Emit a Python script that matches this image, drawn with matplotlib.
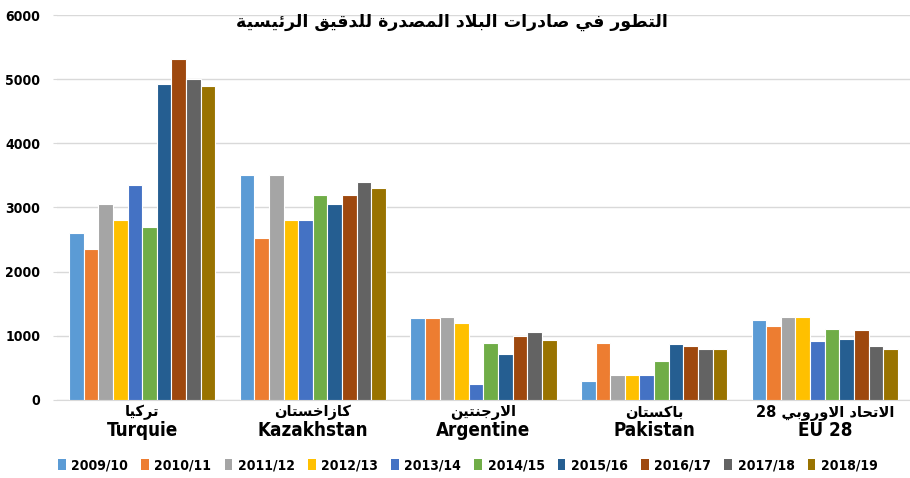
import re
import numpy as np
import matplotlib
matplotlib.use("Agg")
import matplotlib.pyplot as plt
from matplotlib.patches import Patch
from matplotlib.font_manager import FontProperties

# --- data -------------------------------------------------------------
title = "التطور في صادرات البلاد المصدرة للدقيق الرئيسية"
countries_ar = ["تركيا", "كازاخستان", "الارجنتين", "باكستان", "الاتحاد الاوروبي 28"]
countries_lat = ["Turquie", "Kazakhstan", "Argentine", "Pakistan", "EU 28"]
seasons = ["2009/10", "2010/11", "2011/12", "2012/13", "2013/14",
           "2014/15", "2015/16", "2016/17", "2017/18", "2018/19"]

turquie = [2600, 2350, 3050, 2800, 3350, 2700, 4930, 5320, 5000, 4900]
kazakhstan = [3510, 2520, 3500, 2800, 2800, 3200, 3050, 3190, 3400, 3300]
argentine = [1280, 1280, 1300, 1200, 250, 890, 710, 1005, 1055, 940]
pakistan = [300, 890, 390, 390, 390, 600, 870, 840, 800, 800]
eu28 = [1250, 1150, 1300, 1300, 925, 1100, 950, 1085, 845, 800]

colors = ["#5B9BD5", "#ED7D31", "#A5A5A5", "#FFC000", "#4472C4",
          "#70AD47", "#255E91", "#9E480E", "#636363", "#997300"]

# --- minimal arabic shaping (matplotlib has no bidi/shaping) -----------
DUAL = {'ب': 0xFE8F, 'ت': 0xFE95, 'ث': 0xFE99, 'ج': 0xFE9D, 'ح': 0xFEA1,
        'خ': 0xFEA5, 'س': 0xFEB1, 'ش': 0xFEB5, 'ص': 0xFEB9, 'ض': 0xFEBD,
        'ط': 0xFEC1, 'ظ': 0xFEC5, 'ع': 0xFEC9, 'غ': 0xFECD, 'ف': 0xFED1,
        'ق': 0xFED5, 'ك': 0xFED9, 'ل': 0xFEDD, 'م': 0xFEE1, 'ن': 0xFEE5,
        'ه': 0xFEE9, 'ي': 0xFEF1, 'ئ': 0xFE89}
RIGHT = {'ا': 0xFE8D, 'د': 0xFEA9, 'ذ': 0xFEAB, 'ر': 0xFEAD, 'ز': 0xFEAF,
         'و': 0xFEED, 'ة': 0xFE93, 'ى': 0xFEEF, 'أ': 0xFE83, 'إ': 0xFE87,
         'آ': 0xFE81, 'LA': 0xFEFB}


def shape(text):
    toks = []
    i = 0
    while i < len(text):
        if text[i] == 'ل' and i + 1 < len(text) and text[i + 1] == 'ا':
            toks.append('LA')
            i += 2
        else:
            toks.append(text[i])
            i += 1
    out = []
    for k, t in enumerate(toks):
        if t not in DUAL and t not in RIGHT:
            out.append(t)
            continue
        prev = toks[k - 1] if k > 0 else None
        nxt = toks[k + 1] if k + 1 < len(toks) else None
        jp = prev in DUAL
        jn = t in DUAL and (nxt in DUAL or nxt in RIGHT)
        base = DUAL.get(t, RIGHT.get(t))
        if jp and jn:
            cp = base + 3
        elif jp:
            cp = base + 1
        elif jn:
            cp = base + 2
        else:
            cp = base
        out.append(chr(cp))
    s = "".join(out)[::-1]
    return re.sub(r"[0-9]+", lambda m: m.group()[::-1], s)


# --- plot ---------------------------------------------------------------
narrow = dict(family="DejaVu Sans", stretch="condensed", weight="bold")
arab = ["DejaVu Sans"]

fig = plt.figure(figsize=(9.1, 4.78), dpi=100)
ax = fig.add_axes([0.0626, 0.1632, 0.9374, 0.8054])

series = [turquie, kazakhstan, argentine, pakistan, eu28]
vals = np.array(series).T  # rows = seasons
x = np.arange(len(countries_lat))
n = len(seasons)
slot = 0.0856
for j in range(n):
    ax.bar(x + (j - (n - 1) / 2) * slot, vals[j], width=slot,
           color=colors[j], edgecolor="white", linewidth=0.8,
           label=seasons[j], zorder=3)

ax.set_xlim(-0.5, 4.5)
ax.set_ylim(0, 6000)
ax.set_yticks(np.arange(0, 6001, 1000))
ax.yaxis.grid(True, color="#D9D9D9", linewidth=1, zorder=0)
for sp in ["left", "right", "top"]:
    ax.spines[sp].set_visible(False)
ax.spines["bottom"].set_color("#D9D9D9")
ax.set_xticks([])
ax.tick_params(axis="y", length=3, color="#D9D9D9", pad=9)
for lab in ax.get_yticklabels():
    lab.set_fontproperties(FontProperties(size=10, **narrow))

tr = ax.get_xaxis_transform()
for i in range(len(countries_lat)):
    ax.text(x[i], -0.012, shape(countries_ar[i]), transform=tr, ha="center",
            va="top", fontsize=10.5, fontweight="bold", family=arab)
    ax.text(x[i], -0.055, countries_lat[i], transform=tr, ha="center",
            va="top", fontsize=13.5, **narrow)

fig.text(0.497, 0.955, shape(title), ha="center", va="center",
         fontsize=12.5, fontweight="bold", family=arab)

handles = [Patch(facecolor=c, edgecolor="none") for c in colors]
fig.legend(handles, seasons, loc="center", bbox_to_anchor=(0.514, 0.027),
           ncol=10, frameon=False, handlelength=0.55, handleheight=0.9,
           handletextpad=0.4, columnspacing=0.95,
           prop=FontProperties(size=10, **narrow))

fig.savefig("out.png", dpi=100)
